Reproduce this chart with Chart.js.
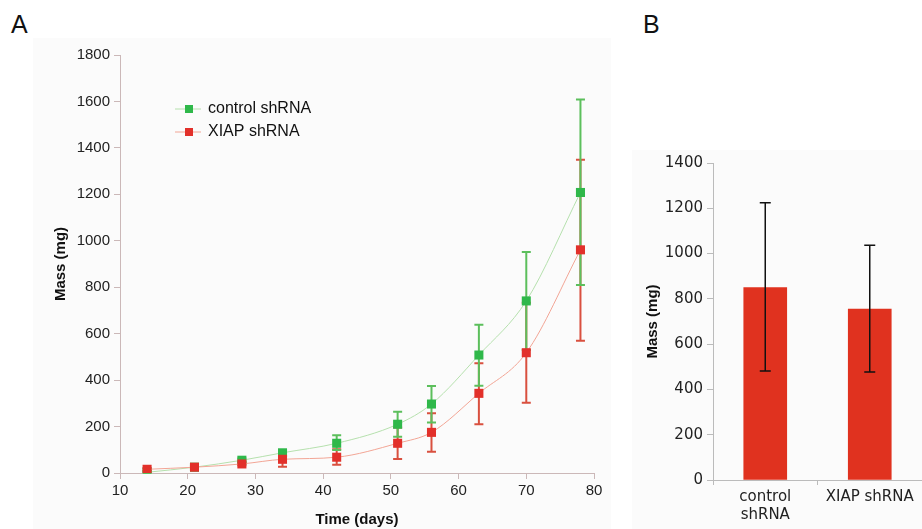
<!DOCTYPE html>
<html>
<head>
<meta charset="utf-8">
<script src="https://cdn.jsdelivr.net/npm/chart.js@4.4.0/dist/chart.umd.min.js"></script>
<style>
body{margin:0;width:922px;height:529px;background:#fff;position:relative;overflow:hidden;font-family:"Liberation Sans",Arial,sans-serif}
.lbl{position:absolute;top:12px;font-size:25px;line-height:25px;color:#111}
#bgA{position:absolute;left:33px;top:38px;width:578px;height:491px;background:#fbfbfb}
#bgB{position:absolute;left:632px;top:150px;width:290px;height:379px;background:#fbfbfb}
#wrapA{position:absolute;left:33px;top:38px;width:589px;height:491px}
#wrapB{position:absolute;left:630px;top:150px;width:292px;height:379px}
</style>
</head>
<body>
<div class="lbl" style="left:11px">A</div>
<div class="lbl" style="left:643px">B</div>
<div id="bgA"></div>
<div id="bgB"></div>
<div id="wrapA"><canvas id="chartA"></canvas></div>
<div id="wrapB"><canvas id="chartB"></canvas></div>
<script>
// panel A - tumour growth over time
const days = [14, 21, 28, 34, 42, 51, 56, 63, 70, 78]
const ctrlMean = [3, 25, 55, 87, 128, 210, 297, 508, 741, 1208]
const ctrlHi = [8, 30, 62, 95, 163, 264, 375, 638, 952, 1608]
const ctrlLo = [0, 20, 48, 79, 99, 156, 218, 376, 530, 810]
const xiapMean = [16, 25, 39, 59, 68, 128, 175, 343, 518, 961]
const xiapHi = [22, 30, 45, 91, 102, 196, 257, 473, 733, 1349]
const xiapLo = [10, 20, 33, 27, 36, 60, 92, 210, 303, 569]

// panel B - final mass
const groups = [['control', 'shRNA'], 'XIAP shRNA']
const massB = [850, 755]
const massBHi = [1225, 1037]
const massBLo = [481, 477]

const tickFont = {family: '"Liberation Sans", Arial, sans-serif', size: 15}
const titleFont = {family: '"Liberation Sans", Arial, sans-serif', size: 15, weight: 'bold'}
const tickFontB = {family: '"DejaVu Sans", sans-serif', size: 15}
const plain = v => String(v)

// error bars drawn from each dataset's errHi / errLo arrays
function drawErrors(chart, onTop) {
    const ctx = chart.ctx
    const y = chart.scales.y
    // last dataset first so the first one ends up on top
    for (let d = chart.data.datasets.length - 1; d >= 0; d--) {
        const ds = chart.data.datasets[d]
        if (!ds.errHi || !!ds.errOnTop !== onTop) continue
        const meta = chart.getDatasetMeta(d)
        ctx.save()
        ctx.strokeStyle = ds.errColor
        ctx.lineWidth = ds.errWidth
        meta.data.forEach((el, i) => {
            const top = y.getPixelForValue(ds.errHi[i])
            const bot = y.getPixelForValue(ds.errLo[i])
            const c = ds.capSize / 2
            ctx.beginPath()
            ctx.moveTo(el.x, top); ctx.lineTo(el.x, bot)
            ctx.moveTo(el.x - c, top); ctx.lineTo(el.x + c, top)
            ctx.moveTo(el.x - c, bot); ctx.lineTo(el.x + c, bot)
            ctx.stroke()
        })
        ctx.restore()
    }
}
const errorBars = {
    id: 'errorBars',
    beforeDatasetsDraw(chart) { drawErrors(chart, false) },
    afterDatasetsDraw(chart) { drawErrors(chart, true) }
}

// legend placed inside the plot area, like the original
const insideLegend = {
    id: 'insideLegend',
    afterDraw(chart) {
        const ctx = chart.ctx
        const rows = [71, 94]
        chart.data.datasets.forEach((ds, i) => {
            const yy = rows[i]
            ctx.save()
            ctx.strokeStyle = ds.borderColor
            ctx.lineWidth = 1
            ctx.beginPath()
            ctx.moveTo(142, yy); ctx.lineTo(168, yy)
            ctx.stroke()
            ctx.fillStyle = ds.pointBackgroundColor
            ctx.fillRect(152, yy - 4, 8, 8)
            ctx.fillStyle = '#111'
            ctx.font = '16px "Liberation Sans", Arial, sans-serif'
            ctx.textBaseline = 'middle'
            ctx.fillText(ds.label, 175, yy)
            ctx.restore()
        })
    }
}

new Chart(document.getElementById('chartA'), {
    type: 'line',
    data: {
        datasets: [{
            label: 'control shRNA',
            data: days.map((d, i) => ({x: d, y: ctrlMean[i]})),
            errHi: ctrlHi, errLo: ctrlLo,
            errColor: '#5cbf5c', errWidth: 2, capSize: 9,
            borderColor: '#b5e0ad',
            borderWidth: 1,
            pointBackgroundColor: '#2fb84a',
            pointBorderWidth: 0,
            pointStyle: 'rect',
            pointRadius: 6.4,
            cubicInterpolationMode: 'monotone',
            order: 1
        }, {
            label: 'XIAP shRNA',
            data: days.map((d, i) => ({x: d, y: xiapMean[i]})),
            errHi: xiapHi, errLo: xiapLo,
            errColor: '#d9503f', errWidth: 2, capSize: 9,
            borderColor: '#f2a595',
            borderWidth: 1,
            pointBackgroundColor: '#e2302a',
            pointBorderWidth: 0,
            pointStyle: 'rect',
            pointRadius: 6.4,
            cubicInterpolationMode: 'monotone',
            order: 0
        }]
    },
    options: {
        responsive: true,
        maintainAspectRatio: false,
        animation: false,
        layout: {padding: {left: 15, top: 17, right: 28, bottom: 0}},
        plugins: {legend: {display: false}, tooltip: {enabled: false}},
        scales: {
            x: {
                type: 'linear', min: 10, max: 80,
                ticks: {stepSize: 10, font: tickFont, color: '#222', padding: 3, callback: plain},
                grid: {drawOnChartArea: false, tickLength: 6, color: '#cbb8b8'},
                border: {color: '#cbb8b8'},
                title: {display: true, text: 'Time (days)', font: titleFont, color: '#111', padding: {top: 2, bottom: 0}},
                afterFit: s => { s.height = 56 }
            },
            y: {
                min: 0, max: 1800,
                ticks: {stepSize: 200, font: tickFont, color: '#222', padding: 4, callback: plain},
                grid: {drawOnChartArea: false, tickLength: 6, color: '#cbb8b8'},
                border: {color: '#cbb8b8'},
                title: {display: true, text: 'Mass (mg)', font: titleFont, color: '#111'},
                afterFit: s => { s.width = 72 }
            }
        }
    },
    plugins: [errorBars, insideLegend]
})

new Chart(document.getElementById('chartB'), {
    type: 'bar',
    data: {
        labels: groups,
        datasets: [{
            label: 'Mass',
            data: massB,
            errHi: massBHi, errLo: massBLo,
            errColor: '#111', errWidth: 1.5, capSize: 11, errOnTop: true,
            backgroundColor: '#e0321f',
            barThickness: 43
        }]
    },
    options: {
        responsive: true,
        maintainAspectRatio: false,
        animation: false,
        layout: {padding: {left: 10, top: 13, right: 0, bottom: 0}},
        plugins: {legend: {display: false}, tooltip: {enabled: false}},
        scales: {
            x: {
                ticks: {font: tickFontB, color: '#222', padding: 3},
                grid: {drawOnChartArea: false, tickLength: 5, color: '#bbb'},
                border: {color: '#bbb'},
                afterFit: s => { s.height = 49 }
            },
            y: {
                min: 0, max: 1400,
                ticks: {stepSize: 200, font: tickFontB, color: '#222', padding: 4, callback: plain},
                grid: {drawOnChartArea: false, tickLength: 6, color: '#bbb'},
                border: {color: '#bbb'},
                title: {display: true, text: 'Mass (mg)', font: titleFont, color: '#111'},
                afterFit: s => { s.width = 73 }
            }
        }
    },
    plugins: [errorBars]
})
</script>
</body>
</html>
